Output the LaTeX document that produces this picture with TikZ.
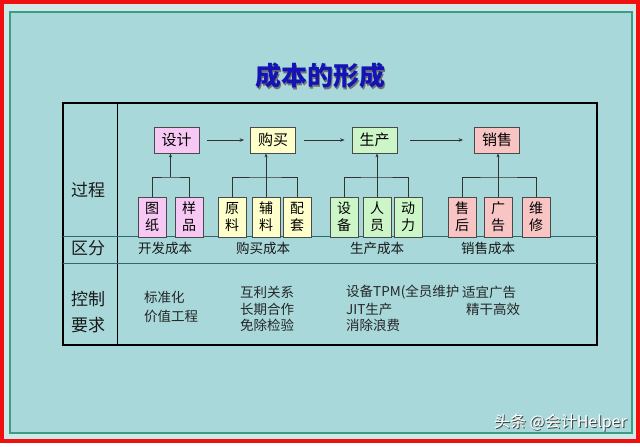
\documentclass[tikz,border=0pt]{standalone}
\usepackage{fontspec}
\setmainfont{Noto Sans CJK SC}
\usetikzlibrary{arrows.meta}
\definecolor{panel}{HTML}{A8D8DA}
\definecolor{outerbg}{HTML}{CFE9E9}
\definecolor{redframe}{HTML}{F01010}
\definecolor{greenframe}{HTML}{3C9C84}
\definecolor{titleblue}{HTML}{1414B4}
\definecolor{divline}{HTML}{2E6A6C}
\definecolor{boxline}{HTML}{4A4A4A}
\definecolor{pinkA}{HTML}{F8C8F4}
\definecolor{yellowA}{HTML}{FFFFCC}
\definecolor{greenA}{HTML}{CCF5C8}
\definecolor{redA}{HTML}{F8C4C4}
\tikzset{
  topbox/.style={draw=boxline, line width=0.8pt, minimum width=45pt, minimum height=26pt, inner sep=0pt, font=\fontsize{15}{17}\selectfont},
  smallbox/.style={draw=boxline, line width=0.8pt, minimum width=28pt, minimum height=40pt, inner sep=0pt, align=center, font=\fontsize{14}{17}\selectfont},
  conn/.style={draw=black!80, line width=0.7pt},
  flowarrow/.style={conn, -{Stealth[length=4.5pt,width=3.5pt]}},
  uparrow/.style={conn, -{Stealth[length=4pt,width=3pt]}},
  rowlabel/.style={font=\fontsize{17}{19}\selectfont, text=black!90, inner sep=0pt},
  costlabel/.style={font=\fontsize{13.5}{16}\selectfont, text=black!90, inner sep=0pt},
  ctrltext/.style={font=\fontsize{13.5}{16}\selectfont, text=black!85, inner sep=0pt, anchor=west},
}
\begin{document}
\begin{tikzpicture}[x=1pt,y=-1pt]
\useasboundingbox (0,0) rectangle (640,447);
\fill[white] (0,0) rectangle (640,447);
\fill[outerbg] (0,0) rectangle (640,442);
\draw[redframe, line width=4pt] (1.5,2) rectangle (638,441);
\draw[greenframe, line width=1.8pt, fill=panel] (10,12) rectangle (632,433);

% title
\node[font=\fontsize{26}{28}\selectfont\bfseries, text=black!55, inner sep=0pt] (titleshadow) at (321.2,77.2) {成本的形成};
\node[font=\fontsize{26}{28}\selectfont\bfseries, text=titleblue, inner sep=0pt] (title) at (320,76) {成本的形成};

% table
\draw[black, line width=1.4pt] (63,103) rectangle (597,345);
\draw[black, line width=0.8pt] (117,103) -- (117,345);
\draw[divline, line width=1pt] (63,236) -- (597,236);
\draw[divline, line width=1pt] (63,263) -- (597,263);

% row labels
\node[rowlabel] (lguocheng) at (88,190) {过程};
\node[rowlabel] (lqufen) at (88,248) {区分};
\node[rowlabel] (lkongzhi) at (88,299) {控制};
\node[rowlabel] (lyaoqiu) at (88,325) {要求};

% top process boxes
\node[topbox, fill=pinkA] (sheji) at (176.5,140) {设计};
\node[topbox, fill=yellowA] (goumai) at (273,140) {购买};
\node[topbox, fill=greenA] (shengchan) at (374.5,140) {生产};
\node[topbox, fill=redA] (xiaoshou) at (497,140) {销售};

\draw[flowarrow, shorten <=8pt, shorten >=6pt] (sheji) -- (goumai);
\draw[flowarrow, shorten <=8pt, shorten >=7pt] (goumai) -- (shengchan);
\draw[flowarrow, shorten <=13pt, shorten >=11pt] (shengchan) -- (xiaoshou);

% small boxes
\node[smallbox, fill=pinkA] (tuzhi) at (152,217) {图\\纸};
\node[smallbox, fill=pinkA] (yangpin) at (189,217) {样\\品};
\node[smallbox, fill=yellowA] (yuanliao) at (232,217) {原\\料};
\node[smallbox, fill=yellowA] (fuliao) at (266,217) {辅\\料};
\node[smallbox, fill=yellowA] (peitao) at (297,217) {配\\套};
\node[smallbox, fill=greenA] (shebei) at (344,217) {设\\备};
\node[smallbox, fill=greenA] (renyuan) at (377,217) {人\\员};
\node[smallbox, fill=greenA] (dongli) at (408,217) {动\\力};
\node[smallbox, fill=redA] (shouhou) at (462,217) {售\\后};
\node[smallbox, fill=redA] (guanggao) at (498,217) {广\\告};
\node[smallbox, fill=redA] (weixiu) at (536,217) {维\\修};

% tree connectors
\coordinate (b1) at (170.5,177);
\draw[conn] (tuzhi.north) |- (b1) -| (yangpin.north);
\draw[uparrow] (b1) -- (b1 |- sheji.south);

\coordinate (b2) at (266,177);
\draw[conn] (yuanliao.north) |- (b2) -| (peitao.north);
\draw[uparrow] (fuliao.north) -- (fuliao.north |- goumai.south);

\coordinate (b3) at (377,177);
\draw[conn] (shebei.north) |- (b3) -| (dongli.north);
\draw[uparrow] (renyuan.north) -- (renyuan.north |- shengchan.south);

\coordinate (b4) at (498,177);
\draw[conn] (shouhou.north) |- (b4) -| (weixiu.north);
\draw[uparrow] (guanggao.north) -- (guanggao.north |- xiaoshou.south);

% cost categories
\node[costlabel] (kaifa) at (165,248) {开发成本};
\node[costlabel] (goumaicb) at (263,248) {购买成本};
\node[costlabel] (shengchancb) at (377,248) {生产成本};
\node[costlabel] (xiaoshoucb) at (488,248) {销售成本};

% control requirements
\node[ctrltext] (c11) at (144,297) {标准化};
\node[ctrltext] (c12) at (144,316) {价值工程};
\node[ctrltext] (c21) at (240,292) {互利关系};
\node[ctrltext] (c22) at (240,309) {长期合作};
\node[ctrltext] (c23) at (240,325) {免除检验};
\node[ctrltext] (c31) at (346,292) {设备TPM(全员维护};
\node[ctrltext] (c32) at (346,309) {JIT生产};
\node[ctrltext] (c33) at (346,325) {消除浪费};
\node[ctrltext] (c41) at (462,292) {适宜广告};
\node[ctrltext] (c42) at (466,309) {精干高效};

% watermark
\node[font=\fontsize{16}{18}\selectfont, text=black!75, inner sep=0pt, anchor=east] (wmshadow) at (628,424) {头条 @会计Helper};
\node[font=\fontsize{16}{18}\selectfont, text=white, inner sep=0pt, anchor=east] (wm) at (627,423) {头条 @会计Helper};
\end{tikzpicture}
\end{document}
